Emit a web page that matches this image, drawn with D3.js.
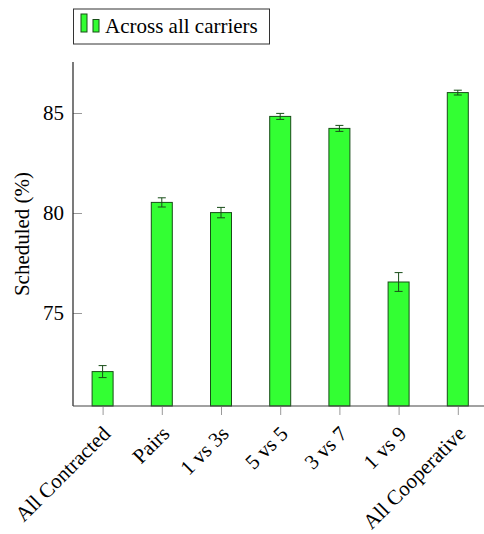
<!DOCTYPE html>
<html>
<head>
<meta charset="utf-8">
<script src="https://cdn.jsdelivr.net/npm/d3@7"></script>
<style>
    body { margin: 0; background: #fff; }
    svg text { font-family: "Liberation Serif", "Times New Roman", Times, serif; fill: #000; }
</style>
</head>
<body>
<div id="chart"></div>
<script>
const categories = ["All Contracted", "Pairs", "1 vs 3s", "5 vs 5", "3 vs 7", "1 vs 9", "All Cooperative"]
const scheduled = [72.07, 80.53, 80.02, 84.83, 84.23, 76.55, 86.02]
const errors = [0.3, 0.23, 0.26, 0.15, 0.15, 0.47, 0.12]
const yTicks = [75, 80, 85]
const seriesName = "Across all carriers"

const W = 484, H = 534
const plot = { left: 73, right: 487.4, top: 62, bottom: 406 }
const fill = "#33ff33", stroke = "#184d18"
const fontSize = "21px"

const svg = d3.select("#chart").append("svg")
    .attr("width", W).attr("height", H)
    .attr("font-family", "Liberation Serif, serif")

const x = d3.scalePoint().domain(categories).range([plot.left, plot.right]).padding(0.5)
const y = d3.scaleLinear().domain([70.35, 87.55]).range([plot.bottom, plot.top])
const barW = 21

// bars
svg.append("g").selectAll("rect")
    .data(categories)
    .enter().append("rect")
    .attr("x", (d) => x(d) - barW / 2)
    .attr("y", (d, i) => y(scheduled[i]))
    .attr("width", barW)
    .attr("height", (d, i) => plot.bottom - y(scheduled[i]))
    .attr("fill", fill)
    .attr("stroke", stroke)
    .attr("stroke-width", 1)

// error bars
const eb = svg.append("g").attr("stroke", stroke).attr("stroke-width", 1)
categories.forEach((c, i) => {
    const cx = x(c)
    const y0 = y(scheduled[i] - errors[i]), y1 = y(scheduled[i] + errors[i])
    eb.append("line").attr("x1", cx).attr("x2", cx).attr("y1", y0).attr("y2", y1)
    eb.append("line").attr("x1", cx - 4).attr("x2", cx + 4).attr("y1", y0).attr("y2", y0)
    eb.append("line").attr("x1", cx - 4).attr("x2", cx + 4).attr("y1", y1).attr("y2", y1)
})

// y axis
const yAxis = svg.append("g")
    .attr("transform", "translate(" + plot.left + ",0)")
    .call(d3.axisRight(y).tickValues(yTicks).tickSize(9).tickFormat(""))
yAxis.select(".domain").remove()
yAxis.selectAll("line").attr("stroke", "#999")
svg.append("line").attr("x1", plot.left).attr("x2", plot.left).attr("y1", plot.top).attr("y2", plot.bottom)
    .attr("stroke", "#222").attr("stroke-width", 1.2)
svg.append("g").selectAll("text")
    .data(yTicks).enter().append("text")
    .attr("x", plot.left - 9).attr("y", (d) => y(d))
    .attr("dy", "0.34em").attr("text-anchor", "end")
    .style("font-size", fontSize)
    .text((d) => d)

// x axis
const xAxis = svg.append("g")
    .attr("transform", "translate(0," + plot.bottom + ")")
    .call(d3.axisBottom(x).tickSize(9).tickFormat(""))
xAxis.select(".domain").remove()
xAxis.selectAll("line").attr("stroke", "#999")
svg.append("line").attr("x1", plot.left).attr("x2", W).attr("y1", plot.bottom).attr("y2", plot.bottom)
    .attr("stroke", "#444").attr("stroke-width", 1.2)
svg.append("g").selectAll("text")
    .data(categories).enter().append("text")
    .attr("transform", (d) => "translate(" + (x(d) + 9) + "," + (plot.bottom + 29) + ") rotate(-45)")
    .attr("text-anchor", "end")
    .style("font-size", fontSize)
    .text((d) => d)

// y label
svg.append("text")
    .attr("transform", "translate(" + 29 + "," + ((plot.top + plot.bottom) / 2) + ") rotate(-90)")
    .attr("text-anchor", "middle")
    .style("font-size", fontSize)
    .text("Scheduled (%)")

// legend
const lg = svg.append("g")
lg.append("rect").attr("x", 73.5).attr("y", 9).attr("width", 196).attr("height", 35)
    .attr("fill", "#fff").attr("stroke", "#333").attr("stroke-width", 1)
lg.append("rect").attr("x", 81).attr("y", 14).attr("width", 6).attr("height", 18)
    .attr("fill", fill).attr("stroke", stroke)
lg.append("rect").attr("x", 93).attr("y", 19.5).attr("width", 6).attr("height", 12.5)
    .attr("fill", fill).attr("stroke", stroke)
lg.append("text").attr("x", 105).attr("y", 33)
    .style("font-size", fontSize)
    .text(seriesName)
</script>
</body>
</html>
